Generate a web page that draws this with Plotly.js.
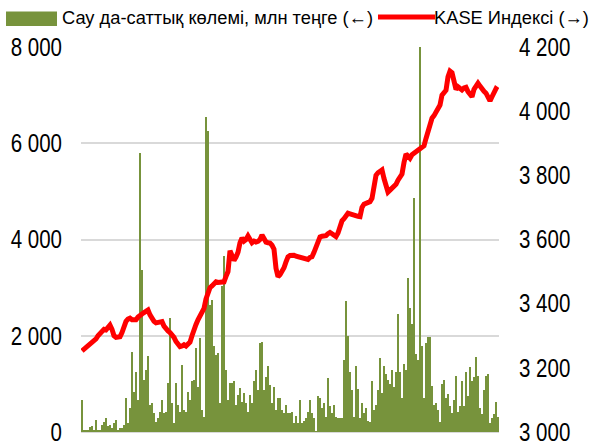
<!DOCTYPE html>
<html>
<head>
<meta charset="utf-8">
<script src="https://cdn.plot.ly/plotly-3.0.1.min.js"></script>
<style>html,body{margin:0;padding:0;background:#fff;}#chart{width:598px;height:448px;}</style>
</head>
<body>
<div id="chart"></div>
<script>
// Trading volume, mln tenge (left axis)
const volume = [
660,40,40,50,110,125,50,250,40,50,150,215,285,125,150,75,180,250,50,75,
75,145,700,195,490,1670,840,1255,665,5800,3375,1080,1290,1580,
560,600,390,215,285,425,665,390,425,1010,2370,600,180,1010,560,425,
1395,460,425,840,665,1050,1080,1740,945,1950,460,320,6540,6250,2640,2750,1780,1600,1640,
600,3030,3665,1290,665,1010,1010,1050,560,770,910,630,805,600,425,770,600,1050,1290,875,
1845,1880,875,1150,1375,980,600,945,460,700,700,460,390,560,390,
400,425,180,335,180,665,180,235,285,425,665,390,285,30,750,700,490,600,320,1120,
540,390,560,320,285,285,285,1500,2715,2000,1255,875,320,1375,890,
285,610,390,490,235,215,1070,460,560,875,1535,805,1375,1210,1080,1000,1290,945,1255,2460,
1255,700,1415,1290,3200,2575,2250,4870,1625,1500,8200,1790,700,1845,1970,
1970,960,560,600,460,215,1000,1080,700,790,540,390,665,1165,425,540,1050,540,1255,750,
1345,1050,1140,1550,1165,490,375,875,1165,1210,180,285,375,630,320
];
// KASE index (right axis)
const kase = [
3253,3258,3265,3270,3275,3280,3285,3290,3300,3308,
3316,3320,3318,3328,3333,3320,3300,3295,3298,3297,
3310,3335,3345,3352,3355,3350,3348,3350,3358,3365,
3368,3372,3378,3380,3365,3350,3345,3340,3342,3345,
3344,3330,3320,3315,3310,3305,3295,3282,3272,3266,
3268,3272,3268,3275,3280,3300,3322,3335,3350,3360,
3368,3385,3415,3432,3450,3455,3462,3468,3466,3468,
3470,3468,3485,3500,3565,3545,3535,3545,3560,3590,
3605,3595,3600,3611,3598,3590,3595,3592,3594,3600,
3614,3600,3592,3590,3589,3582,3570,3510,3484,3490,
3500,3512,3530,3546,3550,3552,3551,3548,3546,3546,
3542,3538,3536,3538,3544,3546,3560,3578,3595,3608,
3610,3611,3612,3618,3622,3618,3612,3609,3620,3640,
3658,3665,3675,3682,3680,3677,3676,3675,3672,3671,
3700,3710,3712,3716,3718,3728,3760,3800,3808,3815,
3817,3790,3760,3748,3754,3760,3765,3772,3785,3796,
3804,3840,3866,3860,3853,3864,3868,3876,3880,3884,
3888,3892,3915,3940,3967,3978,3986,4000,4010,4019,
4050,4058,4065,4107,4125,4120,4085,4068,4076,4072,
4066,4072,4074,4061,4050,4045,4068,4082,4087,4078,
4068,4062,4056,4042,4032,4045,4058,4070,4066
];
const seriesNames = ['Сау да-саттық көлемі, млн теңге (←)', 'KASE Индексі (→)'];
const leftTicks = [0, 2000, 4000, 6000, 8000];
const leftTickText = ['0', '2 000', '4 000', '6 000', '8 000'];
const rightTicks = [3000, 3200, 3400, 3600, 3800, 4000, 4200];
const rightTickText = ['3 000', '3 200', '3 400', '3 600', '3 800', '4 000', '4 200'];

const days = volume.map((_, i) => i);
const FONT = 'Liberation Sans, Arial, sans-serif';
const GREEN = '#77933C';
const RED = '#FF0000';

const traces = [
  {type: 'bar', x: days, y: volume, name: seriesNames[0], marker: {color: GREEN, line: {width: 0}}, yaxis: 'y', hoverinfo: 'y'},
  {type: 'scatter', mode: 'lines', x: days, y: kase, name: seriesNames[1], line: {color: RED, width: 5}, yaxis: 'y2', hoverinfo: 'y'}
];

const layout = {
  width: 598, height: 448,
  margin: {l: 81, r: 99, t: 47, b: 16, pad: 0},
  paper_bgcolor: '#fff', plot_bgcolor: '#fff',
  showlegend: false,
  bargap: 0,
  font: {family: FONT, size: 25, color: '#000'},
  xaxis: {range: [-0.5, volume.length - 0.5], showticklabels: false, showgrid: false, zeroline: false, showline: false, ticks: ''},
  yaxis: {range: [0, 8000], tickvals: leftTicks, ticktext: leftTickText, showgrid: true, gridcolor: '#D9D9D9', gridwidth: 2,
          zeroline: true, zerolinecolor: '#D9D9D9', zerolinewidth: 2, showline: false, ticks: '', ticklabelstandoff: 18,
          tickfont: {family: FONT, size: 25, color: '#000'}},
  yaxis2: {range: [3000, 4200], overlaying: 'y', side: 'right', tickvals: rightTicks, ticktext: rightTickText,
           showgrid: false, zeroline: false, showline: false, ticks: '', ticklabelstandoff: 19,
           tickfont: {family: FONT, size: 25, color: '#000'}},
  shapes: [
    {type: 'rect', xref: 'paper', yref: 'paper', x0: -0.1794, x1: -0.0574, y0: 1.0545, y1: 1.0922, fillcolor: GREEN, line: {width: 0}},
    {type: 'line', xref: 'paper', yref: 'paper', x0: 0.7105, x1: 0.8469, y0: 1.0779, y1: 1.0779, line: {color: RED, width: 5}}
  ],
  annotations: [
    {xref: 'paper', yref: 'paper', x: 0.3266, y: 1.0766, xanchor: 'center', yanchor: 'middle', showarrow: false, text: seriesNames[0], font: {family: FONT, size: 18.3, color: '#000'}},
    {xref: 'paper', yref: 'paper', x: 1.0306, y: 1.0766, xanchor: 'center', yanchor: 'middle', showarrow: false, text: seriesNames[1], font: {family: FONT, size: 18.3, color: '#000'}}
  ]
};

Plotly.newPlot('chart', traces, layout, {displayModeBar: false, staticPlot: true}).then(function (gd) {
  // narrow the tick digits horizontally, like the condensed typeface of the original
  function squeeze(sel, f) {
    gd.querySelectorAll(sel).forEach(function (t) {
      var w = t.getComputedTextLength();
      t.setAttribute('textLength', (w * f).toFixed(1));
      t.setAttribute('lengthAdjust', 'spacingAndGlyphs');
    });
  }
  squeeze('.ytick text', 0.82);
  squeeze('.y2tick text', 0.82);
});
</script>
</body>
</html>
